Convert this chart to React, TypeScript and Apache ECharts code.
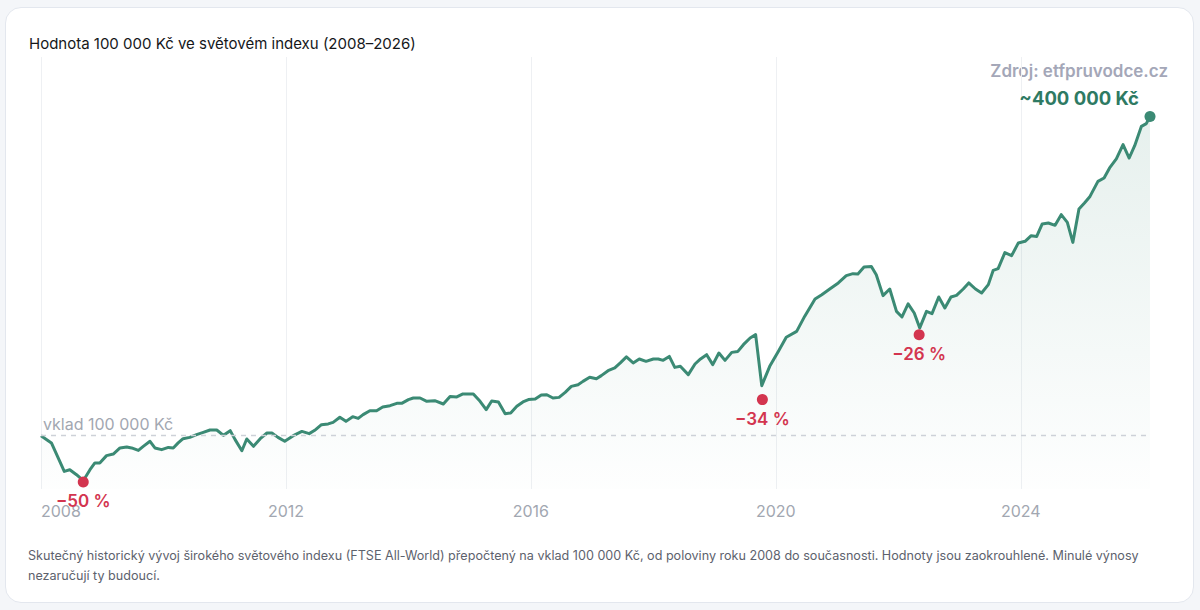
import React, { useEffect, useRef } from "react";
import * as echarts from "echarts";

// Decimal year of each vertex and value in Kč
const years = [
  2008.0, 2008.17, 2008.38, 2008.47, 2008.58, 2008.69, 2008.8, 2008.88, 2008.96, 2009.07,
  2009.18, 2009.29, 2009.4, 2009.48, 2009.59, 2009.67, 2009.78, 2009.86, 2009.97, 2010.08,
  2010.16, 2010.24, 2010.32, 2010.43, 2010.54, 2010.65, 2010.76, 2010.87, 2010.98, 2011.09,
  2011.17, 2011.28, 2011.36, 2011.47, 2011.58, 2011.69, 2011.77, 2011.87, 2011.98, 2012.12,
  2012.26, 2012.38, 2012.47, 2012.58, 2012.69, 2012.77, 2012.88, 2012.98, 2013.09, 2013.18,
  2013.26, 2013.37, 2013.48, 2013.58, 2013.7, 2013.81, 2013.89, 2014.0, 2014.08, 2014.19,
  2014.3, 2014.43, 2014.57, 2014.68, 2014.79, 2014.89, 2015.06, 2015.17, 2015.27, 2015.36,
  2015.47, 2015.58, 2015.67, 2015.77, 2015.87, 2015.96, 2016.07, 2016.17, 2016.26, 2016.36,
  2016.46, 2016.56, 2016.66, 2016.77, 2016.85, 2016.96, 2017.07, 2017.15, 2017.26, 2017.37,
  2017.46, 2017.56, 2017.67, 2017.77, 2017.88, 2018.0, 2018.08, 2018.16, 2018.26, 2018.35,
  2018.44, 2018.57, 2018.68, 2018.77, 2018.87, 2018.97, 2019.07, 2019.17, 2019.28, 2019.38,
  2019.47, 2019.58, 2019.67, 2019.77, 2019.9, 2020.04, 2020.17, 2020.34, 2020.47, 2020.64,
  2020.75, 2020.88, 2021.02, 2021.15, 2021.26, 2021.34, 2021.44, 2021.56, 2021.64, 2021.75,
  2021.86, 2021.97, 2022.06, 2022.16, 2022.26, 2022.35, 2022.46, 2022.55, 2022.66, 2022.76,
  2022.86, 2022.95, 2023.06, 2023.15, 2023.26, 2023.36, 2023.47, 2023.55, 2023.63, 2023.74,
  2023.85, 2023.96, 2024.07, 2024.17, 2024.26, 2024.35, 2024.45, 2024.56, 2024.66, 2024.76,
  2024.85, 2024.95, 2025.04, 2025.13, 2025.26, 2025.36, 2025.45, 2025.56, 2025.67, 2025.77,
  2025.86, 2025.97, 2026.05, 2026.11,
];

const values = [
  100000, 93200, 66500, 68100, 63400, 57800, 68100, 74400, 74400, 81300,
  82800, 88500, 89400, 88500, 86200, 90000, 94700, 88500, 86900, 89000,
  88500, 93200, 97200, 98400, 100900, 103100, 105300, 105300, 100300, 104700,
  96300, 85900, 96900, 90000, 97200, 102500, 102500, 98400, 94700, 100000,
  104000, 101900, 105000, 110300, 111000, 112500, 117200, 113400, 117800, 116200,
  119700, 123400, 123400, 126900, 128100, 130300, 130300, 133800, 135300, 135300,
  132200, 132800, 129700, 136800, 136300, 139100, 139100, 132200, 124400, 132500,
  131600, 120600, 121300, 127500, 131600, 133800, 134400, 138200, 138400, 135300,
  135900, 140600, 146200, 147800, 150900, 154700, 153400, 156300, 160900, 163500,
  168200, 173800, 168200, 171900, 169700, 171900, 171900, 170600, 174300, 164000,
  165000, 157200, 167200, 171900, 175900, 166600, 177500, 170600, 178100, 179000,
  185300, 191600, 194700, 146900, 165000, 179000, 192300, 197800, 211800, 228200,
  232200, 237500, 243200, 250000, 251900, 251600, 258200, 258700, 250900, 231300,
  237500, 216500, 211300, 223500, 215000, 201000, 216500, 214400, 230000, 219700,
  230000, 231500, 237500, 243200, 237500, 233800, 241600, 255000, 256600, 271600,
  268800, 280700, 282200, 287500, 286800, 298500, 299400, 297200, 307200, 300000,
  281200, 312500, 318200, 324300, 338400, 341600, 351000, 359400, 372800, 360300,
  371900, 390000, 392500, 399300,
];

// Drawdown markers
const dipYears = [2008.69, 2019.78, 2022.34];
const dipValues = [56600, 133800, 194700];
const dipLabels = ["−50 %", "−34 %", "−26 %"];

// End marker
const endYear = 2026.11;
const endValue = 399300;
const endLabel = "~400 000 Kč";

const depositValue = 100000;
const depositLabel = "vklad 100 000 Kč";

const title = "Hodnota 100 000 Kč ve světovém indexu (2008–2026)";
const sourceText = "Zdroj: etfpruvodce.cz";
const footnote = [
  "Skutečný historický vývoj širokého světového indexu (FTSE All-World) přepočtený na vklad 100 000 Kč, od poloviny roku 2008 do současnosti. Hodnoty jsou zaokrouhlené. Minulé výnosy",
  "nezaručují ty budoucí.",
];

const FONT = "Inter, 'Noto Sans', sans-serif";
const GREEN = "#3b8a74";
const RED = "#d3354f";

export default function App() {
  const ref = useRef<HTMLDivElement>(null);

  useEffect(() => {
    if (!ref.current) return;
    const chart = echarts.init(ref.current, undefined, { renderer: "svg" });
    const lineData = years.map((y, i) => [y, values[i]]);
    const dipData = dipYears.map((y, i) => ({
      value: [y, dipValues[i]],
      label: { formatter: dipLabels[i] },
    }));

    chart.setOption({
      animation: false,
      textStyle: { fontFamily: FONT },
      title: {
        text: title,
        left: 24,
        top: 31,
        textStyle: { fontSize: 15, fontWeight: 400, color: "#15171a", fontFamily: FONT },
      },
      grid: { left: 41, right: 50, top: 57, bottom: 121 },
      xAxis: {
        type: "value",
        min: 2008,
        max: endYear,
        interval: 4,
        axisLine: { show: false },
        axisTick: { show: false },
        axisLabel: {
          color: "#a2a7b1",
          fontSize: 16,
          margin: 14,
          fontFamily: FONT,
          alignMinLabel: "left",
          showMaxLabel: false,
          formatter: (v: number) => String(Math.round(v)),
        },
        splitLine: {
          show: true,
          showMaxLine: false,
          lineStyle: { color: "#eef0f3", width: 1 },
        },
      },
      yAxis: {
        type: "value",
        min: 50000,
        max: 455000,
        show: false,
        splitLine: { show: false },
      },
      graphic: [
        {
          type: "text",
          right: 32,
          top: 62,
          style: {
            text: sourceText,
            fill: "#a4a7b8",
            fontSize: 17,
            fontWeight: 600,
            fontFamily: FONT,
          },
        },
        {
          type: "text",
          left: 28,
          top: 545,
          style: {
            text: footnote.join("\n"),
            fill: "#5d626d",
            fontSize: 12.6,
            lineHeight: 20,
            fontFamily: FONT,
          },
        },
      ],
      series: [
        {
          type: "line",
          data: lineData,
          symbol: "none",
          z: 2,
          lineStyle: { color: GREEN, width: 3, join: "round" },
          areaStyle: {
            color: new echarts.graphic.LinearGradient(0, 0, 0, 1, [
              { offset: 0, color: "rgba(59,138,116,0.18)" },
              { offset: 1, color: "rgba(59,138,116,0.01)" },
            ]),
          },
          markLine: {
            silent: true,
            symbol: "none",
            animation: false,
            lineStyle: { color: "#cdd1d8", type: [5, 5], width: 1.3 },
            label: {
              position: "insideStartTop",
              formatter: depositLabel,
              color: "#a2a7b1",
              fontSize: 16,
              fontFamily: FONT,
              distance: [2, 4],
            },
            data: [{ yAxis: depositValue }],
          },
        },
        {
          type: "scatter",
          data: dipData,
          symbol: "circle",
          symbolSize: 11,
          z: 4,
          itemStyle: { color: RED, opacity: 1 },
          label: {
            show: true,
            position: "bottom",
            distance: 5,
            color: RED,
            fontSize: 17,
            fontWeight: 600,
            fontFamily: FONT,
          },
        },
        {
          type: "scatter",
          data: [[endYear, endValue]],
          symbol: "circle",
          symbolSize: 11,
          z: 4,
          itemStyle: { color: GREEN, opacity: 1 },
          label: {
            show: true,
            position: "top",
            align: "right",
            offset: [-11, 0],
            distance: 3,
            formatter: endLabel,
            color: "#2e7a63",
            fontSize: 18.5,
            fontWeight: 700,
            fontFamily: FONT,
          },
        },
      ],
    });
    return () => chart.dispose();
  }, []);

  return (
    <div style={{ position: "fixed", inset: 0, background: "#f4f6f9" }}>
      <div
        style={{
          position: "absolute",
          left: 5,
          top: 7,
          width: 1189,
          height: 596,
          boxSizing: "border-box",
          background: "#ffffff",
          border: "1px solid #e3e7ee",
          borderRadius: 16,
        }}
      />
      <div
        ref={ref}
        style={{ position: "absolute", left: 0, top: 0, width: 1200, height: 610 }}
      />
    </div>
  );
}
